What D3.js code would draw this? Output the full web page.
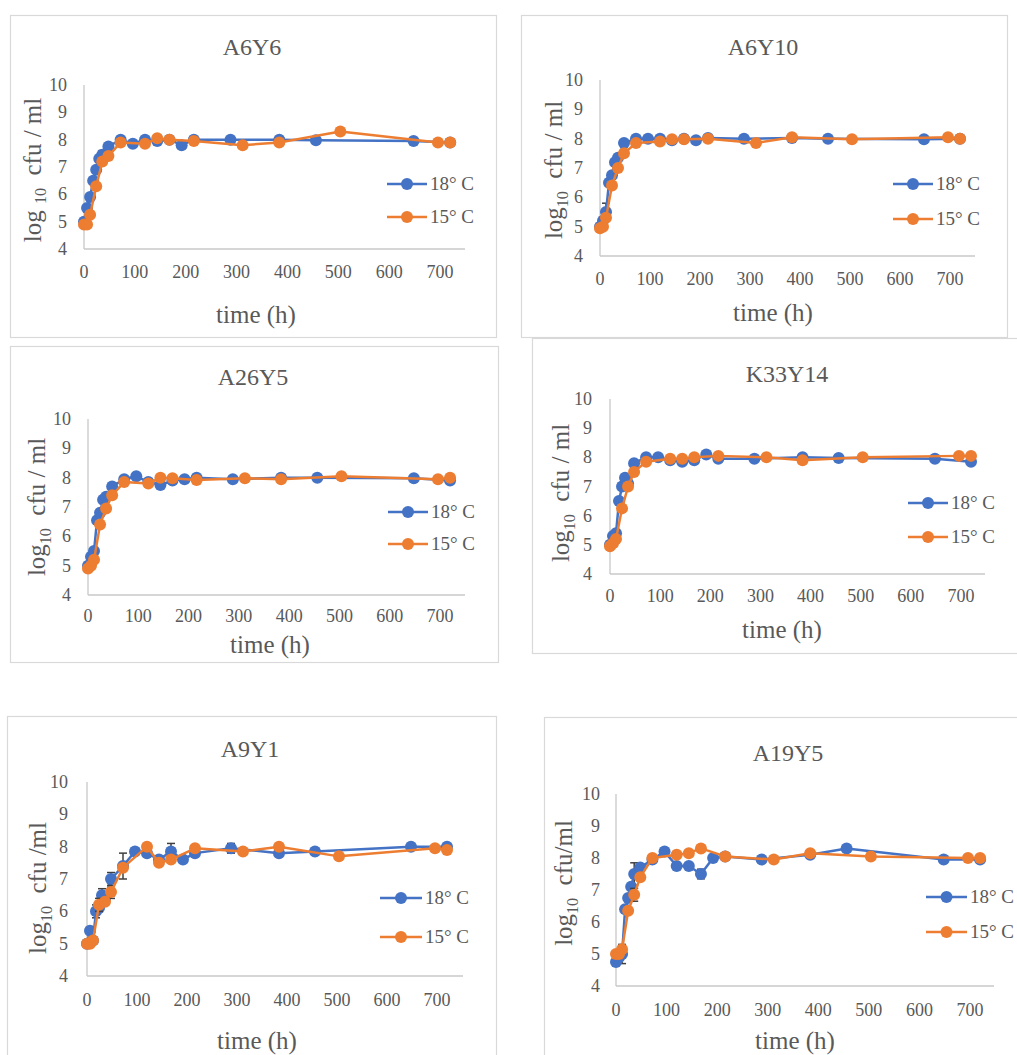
<!DOCTYPE html>
<html><head><meta charset="utf-8">
<script src="https://cdn.jsdelivr.net/npm/d3@7"></script>
<style>
html,body{margin:0;padding:0;background:#fff;}
svg{display:block;}
svg text{font-family:'Liberation Serif','Times New Roman',Tinos,'DejaVu Serif',serif;}
</style></head>
<body>
<svg id="chart" width="1017" height="1055"></svg>
<script>
// ---- data ----
const time18 = [0,6,12,18,24,30,36,48,72,96,120,144,168,192,216,288,384,456,648,720];
const time15 = [0,6,12,24,36,48,72,120,144,168,216,312,384,504,696,720];
const xTicks = [0,100,200,300,400,500,600,700];
const yTicks = [4,5,6,7,8,9,10];
const seriesNames = ["18° C","15° C"];
const titles = ["A6Y6","A6Y10","A26Y5","K33Y14","A9Y1","A19Y5"];

const a6y6_18  = [5.0,5.5,5.9,6.5,6.9,7.3,7.45,7.75,8.0,7.85,8.0,7.95,8.0,7.8,8.0,8.0,8.0,7.98,7.95,7.9];
const a6y6_15  = [4.9,4.9,5.25,6.3,7.2,7.4,7.9,7.85,8.05,8.0,7.95,7.8,7.9,8.3,7.9,7.9];
const a6y10_18 = [5.0,5.2,5.5,6.5,6.75,7.2,7.35,7.85,8.0,8.0,8.0,7.95,8.0,7.95,8.02,8.0,8.02,8.0,7.98,8.0];
const a6y10_15 = [4.95,5.0,5.3,6.4,7.0,7.5,7.85,7.9,7.98,7.98,8.0,7.85,8.05,7.98,8.05,8.0];
const a26y5_18 = [5.0,5.3,5.5,6.55,6.8,7.25,7.35,7.7,7.95,8.05,7.85,7.75,7.9,7.95,8.0,7.95,8.0,8.0,7.98,7.9];
const a26y5_15 = [4.9,5.0,5.2,6.4,6.95,7.4,7.85,7.8,8.0,7.98,7.92,7.98,7.95,8.05,7.95,8.0];
const k33y14_18 = [5.0,5.3,5.4,6.5,7.0,7.3,7.1,7.8,8.0,8.0,7.9,7.85,7.9,8.1,7.95,7.95,8.0,7.98,7.95,7.85];
const k33y14_15 = [4.95,5.05,5.2,6.25,7.0,7.5,7.85,7.95,7.95,8.0,8.05,8.0,7.9,8.0,8.05,8.05];
const a9y1_18  = [5.0,5.4,5.1,6.0,6.1,6.5,6.4,7.0,7.4,7.85,7.8,7.6,7.85,7.6,7.8,7.95,7.8,7.85,8.0,8.0];
const a9y1_15  = [5.0,5.0,5.1,6.2,6.3,6.6,7.35,8.0,7.5,7.6,7.95,7.85,8.0,7.7,7.95,7.9];
const a19y5_18 = [4.75,4.9,5.0,6.4,6.75,7.1,7.5,7.7,7.95,8.2,7.75,7.75,7.5,8.0,8.05,7.95,8.1,8.3,7.95,7.95];
const a19y5_15 = [5.0,5.0,5.15,6.35,6.85,7.4,8.0,8.1,8.15,8.3,8.05,7.95,8.15,8.05,8.0,8.0];

// standard deviations (error bars), same order as the time arrays
const a6y6_18_err  = [0,0,0,0,0,0,0.15,0,0,0,0,0,0,0,0,0,0,0,0,0];
const a6y6_15_err  = [0,0,0,0,0,0,0,0,0,0,0,0,0,0,0,0];
const a6y10_18_err = [0,0,0.3,0,0,0,0,0,0,0,0,0,0,0,0,0,0,0,0,0];
const a6y10_15_err = [0,0,0,0,0,0,0,0,0,0,0,0,0,0,0,0];
const a26y5_18_err = [0,0,0,0,0,0,0,0,0,0,0.1,0,0,0,0,0,0,0,0,0];
const a26y5_15_err = [0,0,0,0,0,0,0,0,0,0,0,0,0,0,0,0];
const k33y14_18_err = [0,0,0,0,0,0,0.15,0,0,0,0,0,0,0,0,0,0,0,0,0];
const k33y14_15_err = [0,0,0,0,0,0,0,0,0,0,0,0,0,0,0,0];
const a9y1_18_err  = [0,0,0,0.2,0,0.2,0,0.2,0.4,0.1,0.1,0,0.25,0,0,0.15,0,0,0,0];
const a9y1_15_err  = [0,0,0,0.2,0,0.2,0,0,0,0,0,0,0,0.1,0,0];
const a19y5_18_err = [0,0,0.3,0,0,0,0.35,0,0,0.1,0,0,0.15,0,0,0,0,0,0,0];
const a19y5_15_err = [0,0,0,0,0.2,0,0,0,0,0.1,0,0,0,0,0,0];

const yLabels = ["A","B","B","B","C","D"]; // label style per panel

// ---- layout (positions only) ----
const layout = [
  {frame:[10,15,486,322], x0:84, x700:440, xEnd:465, yTop:85, yBot:249, title:[252,55], tickB:278, ytR:67, xt:[256,323], yt:[32,170], leg:[387,427,184,217]},
  {frame:[521,15,486,322], x0:600, x700:950, xEnd:975, yTop:80, yBot:256, title:[763,55], tickB:285, ytR:583, xt:[773,321], yt:[553,170], leg:[893,933,184,219]},
  {frame:[10,346,488,316], x0:88, x700:440, xEnd:465, yTop:419, yBot:595, title:[253,385], tickB:622, ytR:71, xt:[270,653], yt:[36,507], leg:[388,428,512,544]},
  {frame:[532,338,490,315], x0:610, x700:961, xEnd:985, yTop:399, yBot:574, title:[787,382], tickB:602, ytR:592, xt:[782,638], yt:[560,493], leg:[908,948,503,537]},
  {frame:[7,716,489,400], x0:87, x700:437, xEnd:463, yTop:782, yBot:976, title:[250,757], tickB:1006, ytR:68, xt:[257,1049], yt:[37,888], leg:[380,422,898,937]},
  {frame:[544,717,500,400], x0:616, x700:970, xEnd:994, yTop:794, yBot:986, title:[788,761], tickB:1016, ytR:600, xt:[795,1049], yt:[563,883], leg:[926,967,897,932]}
];

const panelData = [
  [a6y6_18,a6y6_15,a6y6_18_err,a6y6_15_err],
  [a6y10_18,a6y10_15,a6y10_18_err,a6y10_15_err],
  [a26y5_18,a26y5_15,a26y5_18_err,a26y5_15_err],
  [k33y14_18,k33y14_15,k33y14_18_err,k33y14_15_err],
  [a9y1_18,a9y1_15,a9y1_18_err,a9y1_15_err],
  [a19y5_18,a19y5_15,a19y5_18_err,a19y5_15_err]
];

const colors = ["#4472C4","#ED7D31"];
const textCol = "#595959";
const FONT = "'Liberation Serif','Times New Roman',Tinos,'DejaVu Serif',serif";
const svg = d3.select("#chart");

titles.forEach((title,i)=>{
  const L = layout[i];
  const g = svg.append("g").attr("font-family",FONT);
  g.append("rect").attr("x",L.frame[0]+0.5).attr("y",L.frame[1]+0.5)
   .attr("width",L.frame[2]).attr("height",L.frame[3])
   .attr("fill","#fff").attr("stroke","#d9d9d9").attr("stroke-width",1.2);

  const x = d3.scaleLinear().domain([0,700]).range([L.x0,L.x700]);
  const y = d3.scaleLinear().domain([4,10]).range([L.yBot,L.yTop]);

  g.append("line").attr("x1",L.x0).attr("x2",L.x0).attr("y1",L.yTop).attr("y2",L.yBot)
   .attr("stroke","#c8c8c8").attr("stroke-width",1.3);
  g.append("line").attr("x1",L.x0).attr("x2",L.xEnd).attr("y1",L.yBot).attr("y2",L.yBot)
   .attr("stroke","#c8c8c8").attr("stroke-width",1.3);

  g.selectAll(".xt").data(xTicks).enter().append("text")
   .attr("x",d=>x(d)).attr("y",L.tickB).attr("text-anchor","middle")
   .attr("font-size",18).attr("fill",textCol).text(d=>d);
  g.selectAll(".yt").data(yTicks).enter().append("text")
   .attr("x",L.ytR).attr("y",d=>y(d)+6).attr("text-anchor","end")
   .attr("font-size",18).attr("fill",textCol).text(d=>d);

  g.append("text").attr("x",L.title[0]).attr("y",L.title[1]).attr("text-anchor","middle")
   .attr("font-size",24).attr("fill",textCol).text(title);
  g.append("text").attr("x",L.xt[0]).attr("y",L.xt[1]).attr("text-anchor","middle")
   .attr("font-size",25).attr("fill",textCol).text("time (h)");
  const yt = g.append("text").attr("transform",`translate(${L.yt[0]},${L.yt[1]}) rotate(-90)`)
   .attr("text-anchor","middle").attr("font-size",25).attr("fill",textCol).attr("dy","0.35em");
  const st = yLabels[i];
  if(st==="A"){
    yt.append("tspan").text("log ");
    yt.append("tspan").attr("font-size",16).attr("dy",5).text("10");
    yt.append("tspan").attr("dy",-5).text("\u00a0 cfu / ml");
  } else {
    yt.append("tspan").text("log");
    yt.append("tspan").attr("font-size",16).attr("dy",6).text("10");
    yt.append("tspan").attr("dy",-6).text(st==="D" ? "\u00a0 cfu/ml" : (st==="C" ? "\u00a0 cfu /ml" : "\u00a0 cfu / ml"));
  }

  const [s18,s15,e18,e15] = panelData[i];
  const sets = [
    {t:time18, v:s18, e:e18, c:colors[0]},
    {t:time15, v:s15, e:e15, c:colors[1]}
  ];
  const line = d3.line().x(d=>x(d[0])).y(d=>y(d[1]));
  sets.forEach(s=>{
    const pts = s.t.map((t,k)=>[t,s.v[k],s.e[k]]);
    const eb = g.append("g").attr("stroke","#404040").attr("stroke-width",1.5);
    pts.filter(p=>p[2]>0).forEach(p=>{
      eb.append("line").attr("x1",x(p[0])).attr("x2",x(p[0])).attr("y1",y(p[1]-p[2])).attr("y2",y(p[1]+p[2]));
      [p[1]-p[2],p[1]+p[2]].forEach(v=>eb.append("line").attr("x1",x(p[0])-4).attr("x2",x(p[0])+4).attr("y1",y(v)).attr("y2",y(v)));
    });
    g.append("path").datum(pts).attr("d",line).attr("fill","none")
     .attr("stroke",s.c).attr("stroke-width",2.5).attr("stroke-linejoin","round");
    g.selectAll(null).data(pts).enter().append("circle")
     .attr("cx",d=>x(d[0])).attr("cy",d=>y(d[1])).attr("r",6).attr("fill",s.c);
  });

  seriesNames.forEach((nm,k)=>{
    const ly = L.leg[2+k];
    g.append("line").attr("x1",L.leg[0]).attr("x2",L.leg[1]).attr("y1",ly).attr("y2",ly)
     .attr("stroke",colors[k]).attr("stroke-width",2.5);
    g.append("circle").attr("cx",(L.leg[0]+L.leg[1])/2).attr("cy",ly).attr("r",6).attr("fill",colors[k]);
    g.append("text").attr("x",L.leg[1]+3).attr("y",ly+6).attr("font-size",19).attr("fill",textCol).text(nm);
  });
});
</script>
</body></html>
